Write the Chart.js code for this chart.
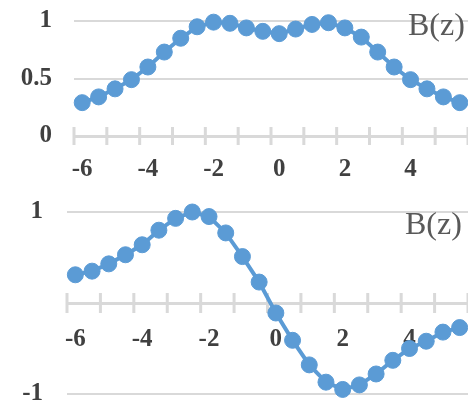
<!DOCTYPE html>
<html>
<head>
<meta charset="utf-8">
<script src="https://cdn.jsdelivr.net/npm/chart.js@4/dist/chart.umd.min.js"></script>
<style>
  body { margin: 0; background: #fff; overflow: hidden; }
  canvas { position: absolute; left: 0; }
  #top { top: 0; }
  #bottom { top: 195px; }
</style>
</head>
<body>
<canvas id="top" width="468" height="195"></canvas>
<canvas id="bottom" width="468" height="214"></canvas>
<script>
// z positions (categories along the axis)
const zValues = [-6, -5.5, -5, -4.5, -4, -3.5, -3, -2.5, -2, -1.5, -1, -0.5,
                 0, 0.5, 1, 1.5, 2, 2.5, 3, 3.5, 4, 4.5, 5, 5.5];

// B(z)
const topB = [0.29, 0.34, 0.41, 0.49, 0.60, 0.73, 0.85, 0.95, 0.99, 0.98, 0.94, 0.91,
              0.89, 0.93, 0.97, 0.985, 0.94, 0.86, 0.73, 0.60, 0.49, 0.41, 0.34, 0.29];
const bottomB = [0.31, 0.35, 0.43, 0.53, 0.64, 0.80, 0.93, 1.0, 0.95, 0.77, 0.51, 0.23,
                 -0.11, -0.41, -0.68, -0.87, -0.95, -0.90, -0.78, -0.63, -0.50, -0.42, -0.32, -0.27];

// tick labels
const xTickLabels = ['-6', '-4', '-2', '0', '2', '4'];
const topYTicks = [0, 0.5, 1];
const topYLabels = ['0', '0.5', '1'];
const bottomYTicks = [-1, 0, 1];
const bottomYLabels = ['-1', '', '1'];

const blue = '#5B9BD5';
const gridColor = '#d9d9d9';
const tickColor = '#404040';
const tickFont = { family: '"Liberation Serif", "Times New Roman", serif', size: 25, weight: 'bold' };

// excel style cross tick marks + the series name in the corner
const crossTicks = {
  id: 'crossTicks',
  beforeDatasetsDraw(chart, args, opts) {
    const x = chart.scales.x, y = chart.scales.y;
    const axisY = y.getPixelForValue(0);
    const ctx = chart.ctx;
    ctx.save();
    ctx.strokeStyle = gridColor;
    ctx.lineWidth = 3;
    ctx.beginPath();
    for (let i = 0; i <= zValues.length; i += 2) {
      const px = x.getPixelForValue(i - 0.5);
      ctx.moveTo(px, axisY - opts.len);
      ctx.lineTo(px, axisY + opts.len);
    }
    ctx.stroke();
    ctx.fillStyle = '#595959';
    ctx.font = '32px "Liberation Serif", serif';
    ctx.textBaseline = 'middle';
    ctx.fillText(chart.data.datasets[0].label, chart.chartArea.right - opts.nameDx, chart.chartArea.top + opts.nameDy);
    ctx.restore();
  }
};

function makeChart(id, values, yTicks, yLabels, cfg) {
  return new Chart(document.getElementById(id), {
    type: 'line',
    data: {
      labels: zValues.map(String),
      datasets: [{
        label: 'B(z)',
        data: values,
        borderColor: blue,
        backgroundColor: blue,
        borderWidth: 4,
        pointRadius: 8,
        pointHoverRadius: 8,
        pointBorderWidth: 1,
        tension: 0,
        clip: false
      }]
    },
    options: {
      responsive: false,
      animation: false,
      layout: { autoPadding: false, padding: { top: cfg.top, bottom: cfg.bottom, left: 0, right: 0 } },
      plugins: {
        legend: { display: false },
        tooltip: { enabled: false },
        crossTicks: { len: cfg.tickLen, nameDx: cfg.nameDx, nameDy: cfg.nameDy }
      },
      scales: {
        x: {
          type: 'category',
          offset: true,
          position: cfg.xPos,
          // tick marks are drawn by the plugin, tickLength only spaces the labels
          grid: { display: false, drawTicks: true, tickLength: cfg.xGap, offset: true },
          border: { color: gridColor, width: 3 },
          ticks: {
            autoSkip: false,
            maxRotation: 0,
            padding: 0,
            color: tickColor,
            font: tickFont,
            callback: function(v) {
              const l = this.getLabelForValue(v);
              return xTickLabels.includes(l) ? l : '';
            }
          }
        },
        y: {
          min: yTicks[0],
          max: yTicks[yTicks.length - 1],
          afterBuildTicks: s => { s.ticks = yTicks.map(v => ({ value: v })); },
          afterFit: s => { s.width = cfg.left; },
          grid: { color: gridColor, lineWidth: 2, tickLength: cfg.yGap, tickColor: 'rgba(0,0,0,0)' },
          border: { display: false },
          ticks: { padding: 0, color: tickColor, font: tickFont, callback: (v, i) => yLabels[i] }
        }
      }
    },
    plugins: [crossTicks]
  });
}

makeChart('top', topB, topYTicks, topYLabels,
  { top: 21, bottom: 10, left: 74, yGap: 22, xPos: 'bottom', xGap: 19, tickLen: 9, nameDx: 60, nameDy: 6 });
makeChart('bottom', bottomB, bottomYTicks, bottomYLabels,
  { top: 17, bottom: 15, left: 67, yGap: 24, xPos: { y: 0 }, xGap: 22, tickLen: 10, nameDx: 63, nameDy: 14 });
</script>
</body>
</html>
